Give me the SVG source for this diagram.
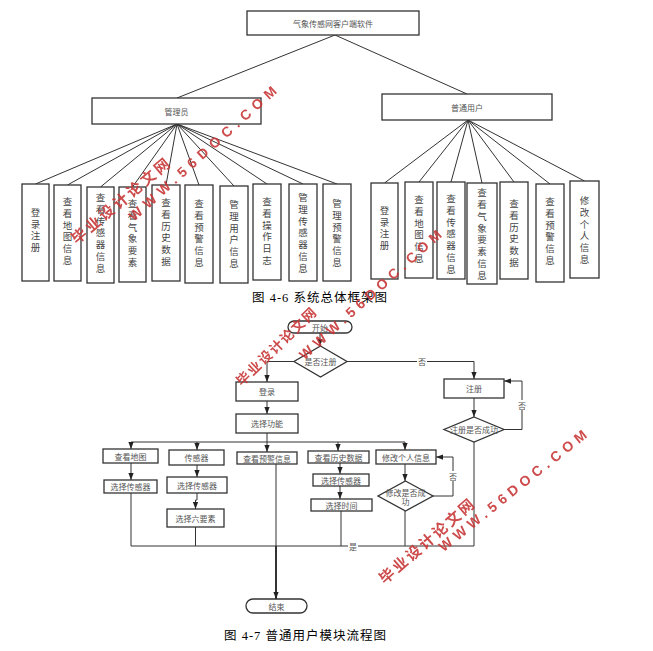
<svg xmlns="http://www.w3.org/2000/svg" width="653" height="651" viewBox="0 0 653 651">
<defs>
<marker id="ar" viewBox="0 0 8 6" refX="8" refY="3" markerWidth="7" markerHeight="6" markerUnits="userSpaceOnUse" orient="auto"><path d="M0,0 L8,3 L0,6 z" fill="#222"/></marker>
</defs>
<style>
.box{fill:#fff;stroke:#333;stroke-width:1.3}
.ln{stroke:#333;stroke-width:1;fill:none}
.t{font-family:"Noto Sans CJK SC",sans-serif;font-size:8px;fill:#555;text-anchor:middle;dominant-baseline:central}
.v{font-family:"Noto Sans CJK SC",sans-serif;font-size:9.5px;fill:#444;text-anchor:middle;writing-mode:vertical-rl;text-orientation:upright;letter-spacing:2.3px}
.cap{font-family:"Liberation Serif","Noto Sans CJK SC",serif;font-size:12.5px;fill:#000;letter-spacing:1px}
.wm{font-family:"Liberation Sans","Noto Sans CJK SC",sans-serif;font-weight:bold;fill:#c83737;text-anchor:middle;dominant-baseline:central}
.lb{fill:#fff}
</style>
<rect width="653" height="651" fill="#fff"/>

<g id="tree-connectors" class="ln">
<path d="M335,35 L177,98 M335,35 L467,94"/>
<path d="M177,124 L35.5,184 M177,124 L67.5,185 M177,124 L100.5,187 M177,124 L132.5,187 M177,124 L166,185 M177,124 L199,185 M177,124 L234,186 M177,124 L267,184 M177,124 L303,184 M177,124 L337,184"/>
<path d="M468,120 L384.5,183 M468,120 L419,182 M468,120 L451,182 M468,120 L482,183 M468,120 L514,182 M468,120 L550,184 M468,120 L584.5,181"/>
</g>

<g id="root"><rect class="box" x="247" y="11" width="172" height="24"/><text class="t" x="333" y="23">气象传感网客户端软件</text></g>
<g id="admin"><rect class="box" x="92" y="98" width="169" height="26"/><text class="t" x="176.5" y="111">管理员</text></g>
<g id="user"><rect class="box" x="382" y="94" width="170" height="26"/><text class="t" x="467" y="107">普通用户</text></g>

<g id="a1"><rect class="box" x="22" y="184" width="27" height="97"/><text class="v" x="35.5" y="231">登录注册</text></g>
<g id="a2"><rect class="box" x="54" y="185" width="27" height="96"/><text class="v" x="67.5" y="232">查看地图信息</text></g>
<g id="a3"><rect class="box" x="87" y="187" width="27" height="96"/><text class="v" x="100.5" y="234">查看传感器信息</text></g>
<g id="a4"><rect class="box" x="119" y="187" width="27" height="95"/><text class="v" x="132.5" y="234">查看气象要素</text></g>
<g id="a5"><rect class="box" x="152" y="185" width="28" height="96"/><text class="v" x="166" y="233">查看历史数据</text></g>
<g id="a6"><rect class="box" x="185" y="185" width="28" height="98"/><text class="v" x="199" y="234">查看预警信息</text></g>
<g id="a7"><rect class="box" x="220" y="186" width="28" height="97"/><text class="v" x="234" y="235">管理用户信息</text></g>
<g id="a8"><rect class="box" x="253" y="184" width="28" height="96"/><text class="v" x="267" y="232">查看操作日志</text></g>
<g id="a9"><rect class="box" x="289" y="184" width="28" height="97"/><text class="v" x="303" y="234">管理传感器信息</text></g>
<g id="a10"><rect class="box" x="323" y="184" width="28" height="97"/><text class="v" x="337" y="234">管理预警信息</text></g>

<g id="u1"><rect class="box" x="371" y="183" width="27" height="96"/><text class="v" x="384.5" y="229">登录注册</text></g>
<g id="u2"><rect class="box" x="405" y="182" width="28" height="96"/><text class="v" x="419" y="230">查看地图信息</text></g>
<g id="u3"><rect class="box" x="437" y="182" width="28" height="97"/><text class="v" x="451" y="235">查看传感器信息</text></g>
<g id="u4"><rect class="box" x="467" y="183" width="30" height="101"/><text class="v" x="482" y="235">查看气象要素信息</text></g>
<g id="u5"><rect class="box" x="500" y="182" width="28" height="97"/><text class="v" x="514" y="234">查看历史数据</text></g>
<g id="u6"><rect class="box" x="536" y="184" width="28" height="98"/><text class="v" x="550" y="232">查看预警信息</text></g>
<g id="u7"><rect class="box" x="570" y="181" width="29" height="97"/><text class="v" x="584.5" y="231">修改个人信息</text></g>

<text id="cap46" class="cap" x="252" y="302">图 4-6 系统总体框架图</text>

<g id="flow-connectors" class="ln">
<path d="M320,333 V346" marker-end="url(#ar)"/>
<path d="M294,361.5 H267 V382" marker-end="url(#ar)"/>
<path d="M347,361.5 H474 V379" marker-end="url(#ar)"/>
<path d="M474,398 V417" marker-end="url(#ar)"/>
<path d="M504,429.5 H522 V381 H504" marker-end="url(#ar)"/>
<path d="M474,442 V546"/>
<path d="M267,401 V414" marker-end="url(#ar)"/>
<path d="M267,433 V452" marker-end="url(#ar)"/>
<path d="M131,442 H405"/>
<path d="M131,442 V449" marker-end="url(#ar)"/>
<path d="M197,442 V450" marker-end="url(#ar)"/>
<path d="M338,442 V451" marker-end="url(#ar)"/>
<path d="M405,442 V450" marker-end="url(#ar)"/>
<path d="M131,463 V480" marker-end="url(#ar)"/>
<path d="M197,465 V477" marker-end="url(#ar)"/>
<path d="M197,493 V500 H195.5 V509" marker-end="url(#ar)"/>
<path d="M340,463 V474" marker-end="url(#ar)"/>
<path d="M340,486 V499" marker-end="url(#ar)"/>
<path d="M405,464 V481" marker-end="url(#ar)"/>
<path d="M433,496 H453 V457 H436" marker-end="url(#ar)"/>
<path d="M131,493 V546 H474 M195.5,527 V546 M341,511 V546 M405,511 V546"/>
<path d="M276,464 V546"/>
<path d="M276,546 V599" stroke-width="2" marker-end="url(#ar)"/>
<rect class="lb" x="417" y="357" width="10" height="9" stroke="none"/>
<rect class="lb" x="517" y="400" width="10" height="10" stroke="none"/>
<rect class="lb" x="448" y="471" width="10" height="10" stroke="none"/>
<rect class="lb" x="348" y="541" width="10" height="10" stroke="none"/>
</g>
<g id="flow-labels">
<text class="t" x="422" y="361.5">否</text>
<text class="t" x="522" y="405">否</text>
<text class="t" x="453" y="476">否</text>
<text class="t" x="353" y="546">是</text>
</g>

<g id="start"><rect class="box" x="288" y="321" width="64" height="12" rx="6"/><text class="t" x="320" y="327">开始</text></g>
<g id="d-reg"><polygon class="box" points="320.5,346 347,361.5 320.5,377 294,361.5"/><text class="t" x="320.5" y="361.5">是否注册</text></g>
<g id="reg"><rect class="box" x="444" y="379" width="60" height="19"/><text class="t" x="474" y="388.5">注册</text></g>
<g id="d-regok"><polygon class="box" points="474,417 504,429.5 474,442 444,429.5"/><text class="t" x="474" y="429.5">注册是否成功</text></g>
<g id="login"><rect class="box" x="236" y="382" width="62" height="19"/><text class="t" x="267" y="391.5">登录</text></g>
<g id="choose"><rect class="box" x="236" y="414" width="62" height="19"/><text class="t" x="267" y="423.5">选择功能</text></g>
<g id="map"><rect class="box" x="103" y="449" width="55" height="14"/><text class="t" x="130.5" y="456">查看地图</text></g>
<g id="sel1"><rect class="box" x="104" y="480" width="53" height="13"/><text class="t" x="130.5" y="486.5">选择传感器</text></g>
<g id="sensor"><rect class="box" x="169" y="450" width="55" height="15"/><text class="t" x="196.5" y="457.5">传感器</text></g>
<g id="sel2"><rect class="box" x="167" y="477" width="60" height="16"/><text class="t" x="197" y="485">选择传感器</text></g>
<g id="six"><rect class="box" x="167" y="509" width="57" height="18"/><text class="t" x="195.5" y="518">选择六要素</text></g>
<g id="warn"><rect class="box" x="237" y="452" width="60" height="12"/><text class="t" x="267" y="458">查看预警信息</text></g>
<g id="hist"><rect class="box" x="308" y="451" width="61" height="12"/><text class="t" x="338.5" y="457">查看历史数据</text></g>
<g id="sel3"><rect class="box" x="313" y="474" width="56" height="12"/><text class="t" x="341" y="480">选择传感器</text></g>
<g id="time"><rect class="box" x="311" y="499" width="61" height="12"/><text class="t" x="341.5" y="505">选择时间</text></g>
<g id="modify"><rect class="box" x="376" y="450" width="60" height="14"/><text class="t" x="406" y="457">修改个人信息</text></g>
<g id="d-mod"><polygon class="box" points="405.5,481 433,496 405.5,511 378,496"/><text class="t"><tspan x="405.5" y="491.5">修改是否成</tspan><tspan x="405.5" y="501">功</tspan></text></g>
<g id="end"><rect class="box" x="246" y="599" width="61" height="14" rx="7"/><text class="t" x="276.5" y="606">结束</text></g>

<text id="cap47" class="cap" x="224" y="640">图 4-7 普通用户模块流程图</text>

<g id="watermarks" opacity="0.9">
<text class="wm" font-size="15" letter-spacing="3" transform="rotate(-40 121.5 200)" x="121.5" y="200">毕业设计论文网</text>
<text class="wm" font-size="14" letter-spacing="5.6" transform="rotate(-42 204.5 151.5)" x="204.5" y="151.5">WWW.56DOC.COM</text>
<text class="wm" font-size="13.5" letter-spacing="1.7" transform="rotate(-44 277 346.5)" x="277" y="346.5">毕业设计论文网</text>
<text class="wm" font-size="14" letter-spacing="5" transform="rotate(-42 372 293)" x="372" y="293">WWW.56DOC.COM</text>
<text class="wm" font-size="15" letter-spacing="2.5" transform="rotate(-41 427.5 540.5)" x="427.5" y="540.5">毕业设计论文网</text>
<text class="wm" font-size="14" letter-spacing="4.9" transform="rotate(-38.7 514.5 489)" x="514.5" y="489">WWW.56DOC.COM</text>
</g>
</svg>
